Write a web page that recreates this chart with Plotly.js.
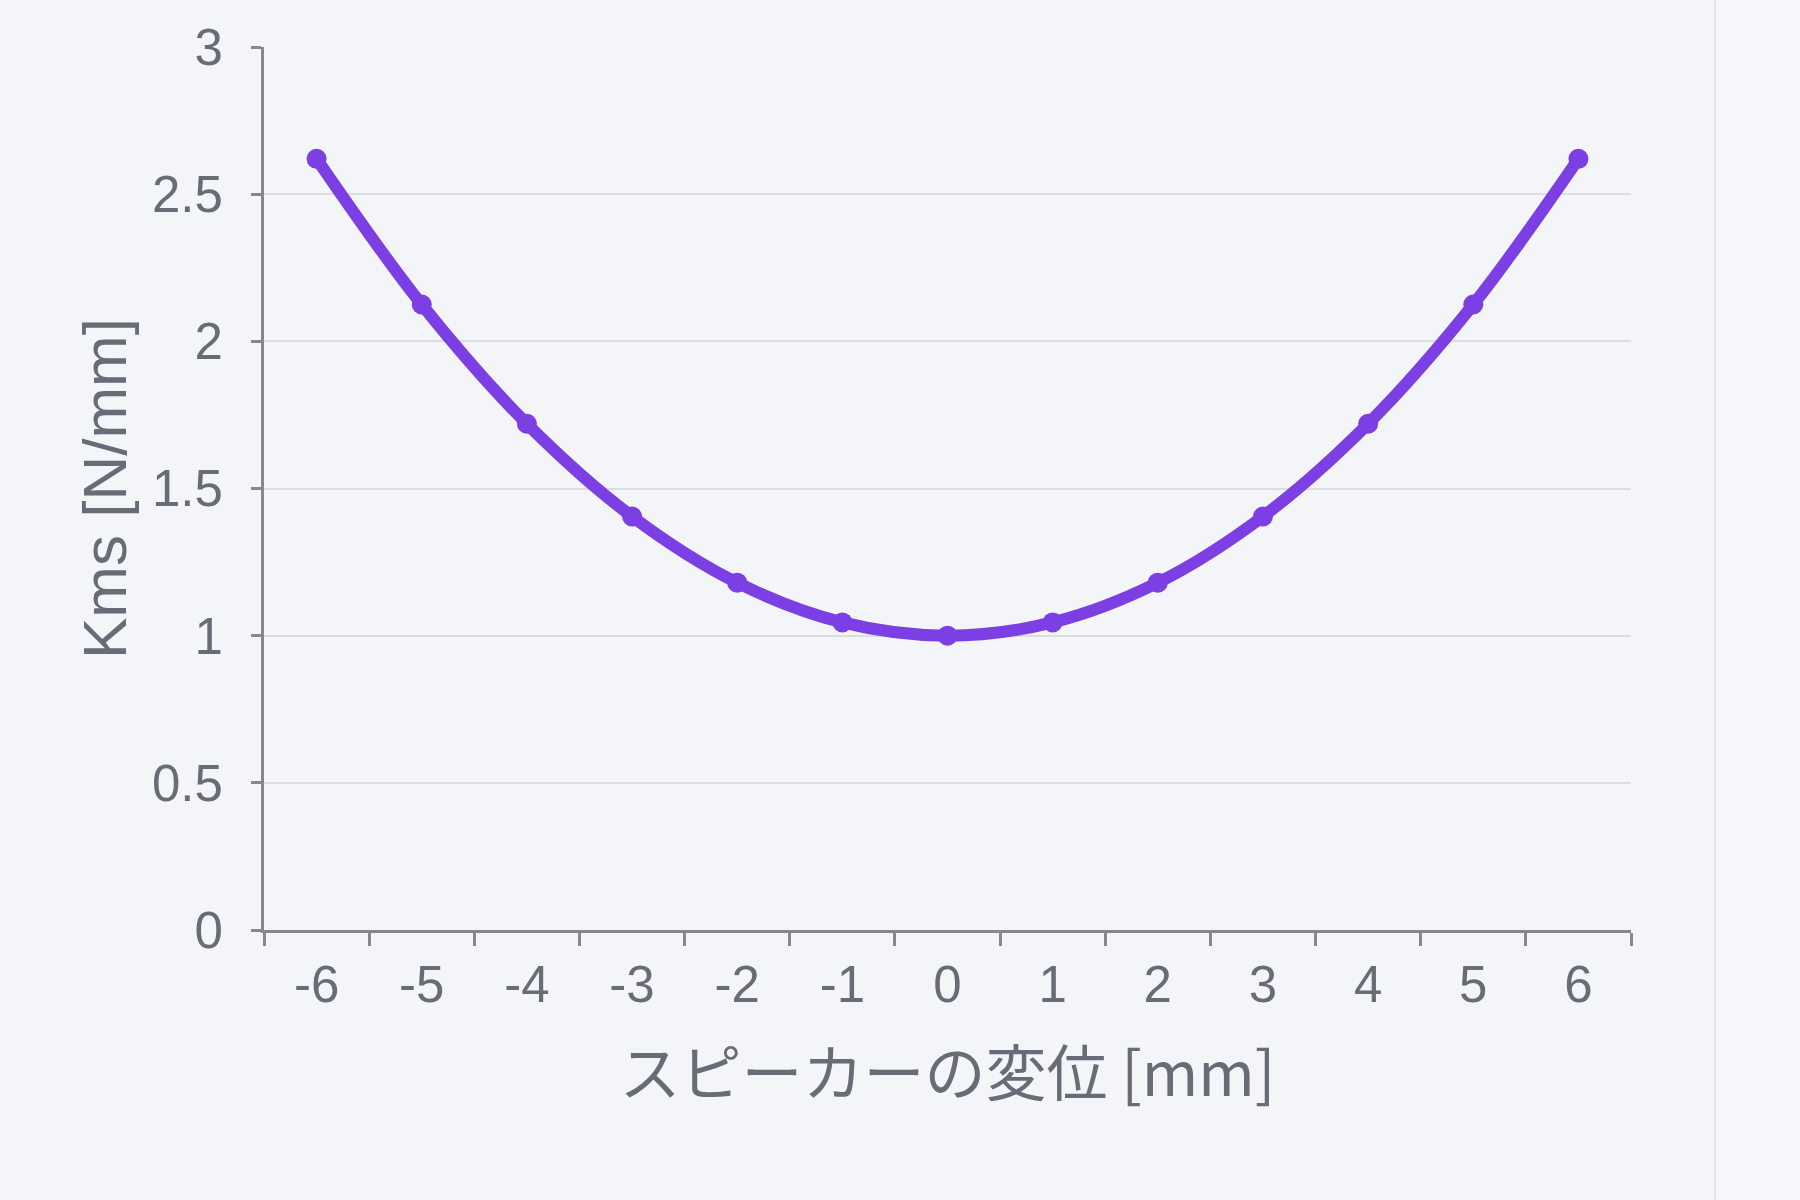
<!DOCTYPE html>
<html>
<head>
<meta charset="utf-8">
<script src="https://cdn.plot.ly/plotly-3.0.1.min.js"></script>
<style>
html,body{margin:0;padding:0;background:#f4f5f9;}
#chart{width:1800px;height:1200px;}
</style>
</head>
<body>
<div id="chart"></div>
<script>
const displacement = ["-6","-5","-4","-3","-2","-1","0","1","2","3","4","5","6"];
const kms = [2.62, 2.125, 1.72, 1.405, 1.18, 1.045, 1.0, 1.045, 1.18, 1.405, 1.72, 2.125, 2.62];
const xTitle = "スピーカーの変位 [mm]";
const yTitle = "Kms [N/mm]";

const textColor = "#686c76";
const fontFam = "Liberation Sans, Arial, 'Noto Sans CJK JP', sans-serif";

const trace = {
  x: displacement,
  y: kms,
  type: "scatter",
  mode: "lines+markers",
  line: {color: "#7b3fe4", width: 12, shape: "spline", smoothing: 1},
  marker: {color: "#7b3fe4", size: 20},
  hoverinfo: "x+y"
};

const layout = {
  width: 1800,
  height: 1200,
  paper_bgcolor: "#f4f5f9",
  plot_bgcolor: "#f4f5f9",
  margin: {l: 264, r: 169, t: 47, b: 270},
  showlegend: false,
  font: {family: fontFam, color: textColor},
  xaxis: {
    type: "category",
    tickson: "boundaries",
    range: [-0.5, 12.5],
    showgrid: false,
    showline: true,
    linecolor: "#85888f",
    linewidth: 3,
    ticks: "outside",
    ticklen: 13,
    tickwidth: 3,
    tickcolor: "#85888f",
    ticklabelstandoff: 8,
    tickfont: {size: 51, color: textColor, family: fontFam},
    title: {text: xTitle, font: {size: 61, color: textColor, family: "'Noto Sans CJK JP', Liberation Sans, sans-serif"}, standoff: 42},
    zeroline: false,
    automargin: false
  },
  yaxis: {
    range: [0, 3],
    dtick: 0.5,
    tick0: 0,
    showgrid: true,
    gridcolor: "#dcdde3",
    gridwidth: 2,
    showline: true,
    linecolor: "#85888f",
    linewidth: 3,
    ticks: "outside",
    ticklen: 10,
    tickwidth: 3,
    tickcolor: "#85888f",
    ticklabelstandoff: 18,
    tickfont: {size: 51, color: textColor, family: fontFam},
    title: {text: yTitle, font: {size: 62, color: textColor, family: fontFam}, standoff: 6},
    zeroline: false,
    automargin: false
  },
  shapes: [
    {type: "rect", xref: "paper", yref: "paper", x0: (1715-264)/1367, x1: (1800-264)/1367, y0: -270/883, y1: 1 + 47/883, fillcolor: "#f6f7fa", line: {width: 0}, layer: "below"},
    {type: "line", xref: "paper", yref: "paper", x0: (1715-264)/1367, x1: (1715-264)/1367, y0: -270/883, y1: 1 + 47/883, line: {color: "#e6e7ec", width: 2}, layer: "below"}
  ]
};

Plotly.newPlot("chart", [trace], layout, {displayModeBar: false, staticPlot: true});
</script>
</body>
</html>
